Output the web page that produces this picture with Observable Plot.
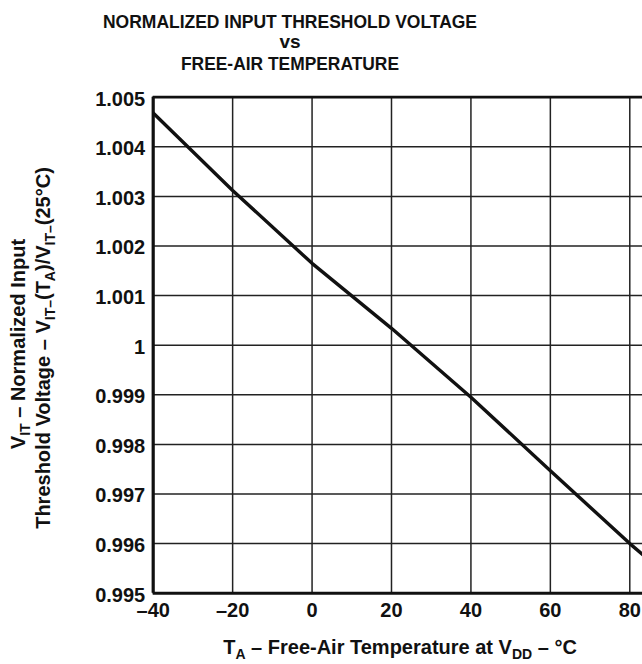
<!DOCTYPE html>
<html>
<head>
<meta charset="utf-8">
<script src="https://cdn.jsdelivr.net/npm/d3@7"></script>
<script src="https://cdn.jsdelivr.net/npm/@observablehq/plot@0.6"></script>
<style>
  html, body { margin: 0; padding: 0; background: #fff; }
  body { width: 642px; height: 664px; overflow: hidden; font-family: "Liberation Sans", Arial, sans-serif; }
  #title { display: block; }
  #chart svg { display: block; }
</style>
</head>
<body>
<svg id="title" width="642" height="84"></svg>
<div id="chart"></div>
<script>
// ---- data ----
const titleLines = ["NORMALIZED INPUT THRESHOLD VOLTAGE", "vs", "FREE-AIR TEMPERATURE"];
const temperature = [-40, -20, 0, 20, 40, 60, 80, 83.2];
const normalizedVit = [1.00468, 1.00312, 1.00165, 1.00034, 0.99895, 0.99747, 0.996, 0.99578];
const xTicks = [-40, -20, 0, 20, 40, 60, 80];
const xTickLabels = ["–40", "–20", "0", "20", "40", "60", "80"];
const yTicks = [0.995, 0.996, 0.997, 0.998, 0.999, 1, 1.001, 1.002, 1.003, 1.004, 1.005];
const yTickLabels = ["0.995", "0.996", "0.997", "0.998", "0.999", "1", "1.001", "1.002", "1.003", "1.004", "1.005"];

const xLabelMap = new Map(xTicks.map((t, i) => [t, xTickLabels[i]]));
const yLabelMap = new Map(yTicks.map((t, i) => [t, yTickLabels[i]]));
const rows = temperature.map((t, i) => ({t, v: normalizedVit[i]}));

// ---- title ----
const tsvg = d3.select("#title");
const titleY = [28, 48, 70];
const titleLen = [374, null, 218];
titleLines.forEach((s, i) => {
  const t = tsvg.append("text")
    .attr("x", 290).attr("y", titleY[i])
    .attr("text-anchor", "middle")
    .attr("font-family", "Liberation Sans, Arial, sans-serif")
    .attr("font-weight", "bold")
    .attr("font-size", 19)
    .attr("fill", "#111")
    .text(s);
  if (titleLen[i]) t.attr("textLength", titleLen[i]).attr("lengthAdjust", "spacingAndGlyphs");
});

// ---- chart ----
const chart = Plot.plot({
  width: 642,
  height: 580,
  marginTop: 12.7,
  marginBottom: 71.3,
  marginLeft: 152.7,
  marginRight: 0,
  style: {fontFamily: "Liberation Sans, Arial, sans-serif", fontSize: "20px", fontWeight: "bold", color: "#111", background: "#fff"},
  x: {domain: [-40, 83.2]},
  y: {domain: [0.995, 1.005]},
  marks: [
    Plot.gridX(xTicks, {stroke: "#222", strokeOpacity: 1, strokeWidth: 1.5}),
    Plot.gridY(yTicks, {stroke: "#222", strokeOpacity: 1, strokeWidth: 1.5}),
    Plot.ruleX([-40], {stroke: "#111", strokeWidth: 3.2}),
    Plot.ruleY([0.995], {stroke: "#111", strokeWidth: 3}),
    Plot.ruleY([1.005], {stroke: "#111", strokeWidth: 2.7}),
    Plot.line(rows, {x: "t", y: "v", stroke: "#111", strokeWidth: 3.4, clip: true}),
    Plot.axisX({ticks: xTicks, tickFormat: d => xLabelMap.get(d), tickSize: 0, tickPadding: 10, label: null, fill: "#111"}),
    Plot.axisY({ticks: yTicks, tickFormat: d => yLabelMap.get(d), tickSize: 0, tickPadding: 8, label: null, fill: "#111", dy: 2})
  ]
});
document.getElementById("chart").appendChild(chart);

// ---- axis titles with subscripts ----
const svg = d3.select(chart);
const font = "Liberation Sans, Arial, sans-serif";
function addRun(text, parts) {
  parts.forEach(([s, sub]) => {
    const ts = text.append("tspan").text(s);
    if (sub) ts.attr("font-size", 14).attr("baseline-shift", "-5");
  });
}
const xl = svg.append("text")
  .attr("x", 400).attr("y", 570)
  .attr("text-anchor", "middle")
  .attr("font-family", font).attr("font-weight", "bold").attr("font-size", 20).attr("fill", "#111");
addRun(xl, [["T"], ["A", true], [" – Free-Air Temperature at V"], ["DD", true], [" – °C"]]);

const yl1 = svg.append("text")
  .attr("transform", "translate(25,260) rotate(-90)")
  .attr("text-anchor", "middle")
  .attr("font-family", font).attr("font-weight", "bold").attr("font-size", 20).attr("fill", "#111");
addRun(yl1, [["V"], ["IT", true], [" – Normalized Input"]]);

const yl2 = svg.append("text")
  .attr("transform", "translate(50,264) rotate(-90)")
  .attr("text-anchor", "middle")
  .attr("font-family", font).attr("font-weight", "bold").attr("font-size", 20).attr("fill", "#111");
addRun(yl2, [["Threshold Voltage – V"], ["IT–", true], ["(T"], ["A", true], [")/V"], ["IT–", true], ["(25°C)"]]);
</script>
</body>
</html>
